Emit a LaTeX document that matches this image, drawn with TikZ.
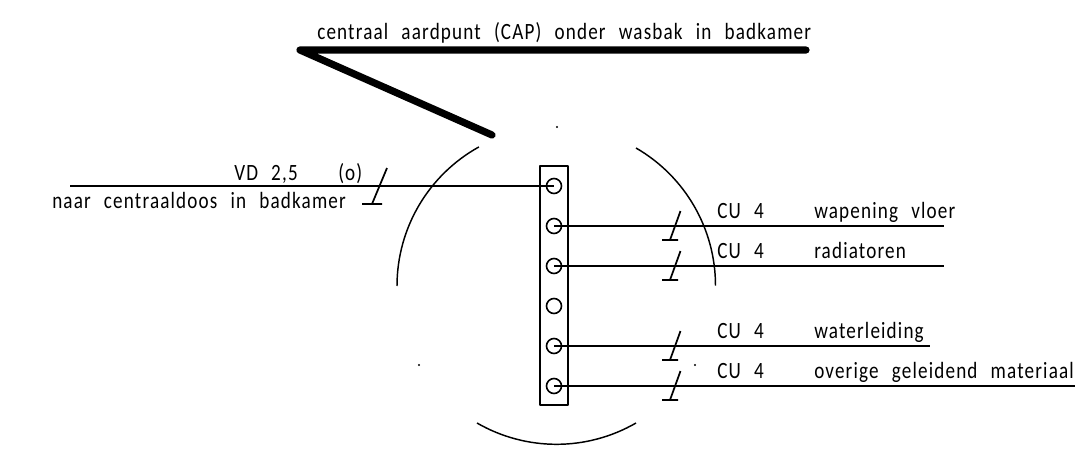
\documentclass[tikz,border=0pt]{standalone}
\usepackage{fontspec}
\setmainfont[FakeStretch=0.82,LetterSpace=5,WordSpace=2.4]{Carlito}
\tikzset{
  wire/.style={line width=1.3pt},
  thin arc/.style={line width=1.1pt},
  heavy/.style={line width=5.4pt,line cap=round,line join=round},
  terminal/.style={circle,draw,line width=1.2pt,minimum size=15*0.75pt,inner sep=0pt},
  label/.style={anchor=base west,inner sep=0pt,font=\fontsize{17.5pt}{19pt}\selectfont}
}
\begin{document}
\begin{tikzpicture}[x=0.75pt,y=-0.75pt,line join=round]
  \useasboundingbox (0,0) rectangle (1083,450);
  % aardpunt
  \coordinate (capl) at (300,50);
  \coordinate (capr) at (806,50);
  \coordinate (capd) at (492,135);
  \draw[heavy] (capr) -- (capl) -- (capd);
  \node[label] (captxt) at (317,39) {centraal aardpunt (CAP) onder wasbak in badkamer};
  % rail
  \node[draw,line width=1.2pt,minimum width=28*0.75pt,minimum height=239*0.75pt,inner sep=0pt] (rail) at (554,285.5) {};
  \foreach \n/\y in {1/186,2/226,3/266,4/306,5/346,6/386}
    \node[terminal] (t\n) at (554,\y) {};
  % circle arcs
  \draw[thin arc] (397,286) arc[start angle=180,end angle=241,radius=159];
  \draw[thin arc] (636,148) arc[start angle=-60,end angle=0,radius=159];
  \draw[thin arc] (477,423) arc[start angle=120,end angle=60,radius=159];
  \foreach \p in {(557,127),(419,365),(695,365)}
    \fill \p circle (1.1);
  % feed
  \coordinate (vd) at (70,186);
  \draw[wire] (vd) -- (t1.center);
  \draw[wire] (387,168) -- (372,204) (362,204) -- (382,204);
  \node[label] (vdtxt) at (234,180) {VD 2,5};
  \node[label] (vdo) at (338,180) {(o)};
  \node[label] (naar) at (52,208) {naar centraaldoos in badkamer};
  % outgoing wires
  \foreach \n/\y/\xe/\txt in {2/226/944/wapening vloer,3/266/944/radiatoren,5/346/930/waterleiding,6/386/1075/overige geleidend materiaal}{
    \coordinate (e\n) at (\xe,\y);
    \draw[wire] (t\n.center) -- (e\n);
    \draw[wire] (680.5,\y-15) -- (670,\y+14) (662,\y+14) -- (678,\y+14);
    \node[label] (cu\n) at (717,\y-8) {CU 4};
    \node[label] (txt\n) at (814,\y-8) {\txt};
  }
\end{tikzpicture}
\end{document}
